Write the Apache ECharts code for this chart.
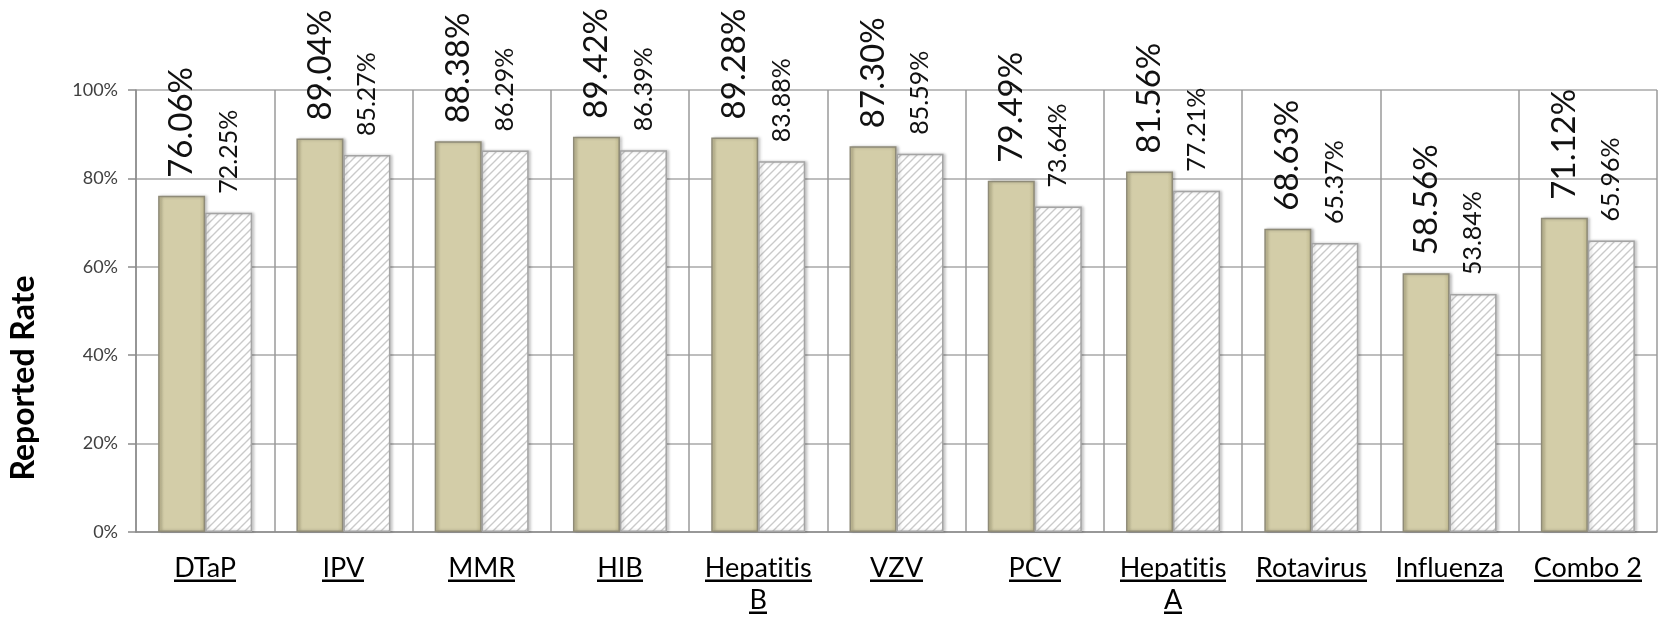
<!DOCTYPE html>
<html>
<head>
<meta charset="utf-8">
<script src="https://cdn.jsdelivr.net/npm/echarts@6/dist/echarts.min.js"></script>
<style>
  html, body { margin: 0; padding: 0; background: #fff; }
  #chart { width: 1659px; height: 632px; }
</style>
</head>
<body>
<div id="chart"></div>
<script>
const categories = ['DTaP', 'IPV', 'MMR', 'HIB', 'Hepatitis\nB', 'VZV', 'PCV', 'Hepatitis\nA', 'Rotavirus', 'Influenza', 'Combo 2']
const rateCurrent = [76.06, 89.04, 88.38, 89.42, 89.28, 87.30, 79.49, 81.56, 68.63, 58.56, 71.12]
const ratePrior = [72.25, 85.27, 86.29, 86.39, 83.88, 85.59, 73.64, 77.21, 65.37, 53.84, 65.96]
const yTicks = [0, 20, 40, 60, 80, 100]

// diagonal hatch for the second series
const hatch = document.createElement('canvas')
hatch.width = 8
hatch.height = 8
const hctx = hatch.getContext('2d')
hctx.fillStyle = '#ffffff'
hctx.fillRect(0, 0, 8, 8)
hctx.strokeStyle = '#cacaca'
hctx.lineWidth = 1.4
hctx.beginPath()
hctx.moveTo(-1, 9); hctx.lineTo(9, -1)
hctx.moveTo(-1, 1); hctx.lineTo(1, -1)
hctx.moveTo(7, 9); hctx.lineTo(9, 7)
hctx.stroke()

// underline drawn as a stretched background image under each label token
const uline = document.createElement('canvas')
uline.width = 4
uline.height = 40
const uctx = uline.getContext('2d')
uctx.fillStyle = '#000'
uctx.fillRect(0, 37, 4, 3)

// stop Lato from joining "ti" / "fl" into ligatures
const noLig = s => s.replace(/([tf])(?=[il])/g, '$1\u200C')

const chart = echarts.init(document.getElementById('chart'))

const option = {
  animation: false,
  grid: { left: 135, right: 2, top: 90, bottom: 100 },
  xAxis: {
    type: 'category',
    data: categories,
    axisLine: { lineStyle: { color: '#8c8c8c', width: 1.5 } },
    axisTick: { length: 10, lineStyle: { color: '#8c8c8c', width: 1.5 } },
    splitLine: { show: true, lineStyle: { color: '#9a9a9a', width: 1.5 } },
    axisLabel: {
      margin: 20,
      interval: 0,
      formatter: v => v.split('\n').map(s => '{u|' + noLig(s) + '}').join('\n'),
      rich: {
        u: {
          fontFamily: 'Lato',
          fontSize: 27,
          color: '#000',
          lineHeight: 32,
          backgroundColor: { image: uline }
        }
      }
    }
  },
  yAxis: {
    type: 'value',
    min: 0,
    max: 100,
    interval: 20,
    name: 'Reported Rate',
    nameLocation: 'middle',
    nameGap: 96,
    nameTextStyle: {
      fontFamily: 'Lato',
      fontWeight: 'bold',
      fontSize: 32,
      color: '#000',
      padding: [0, 134, 0, 0]
    },
    axisLine: { show: true, lineStyle: { color: '#8c8c8c', width: 1.5 } },
    axisTick: { show: true, length: 8, lineStyle: { color: '#8c8c8c', width: 1.5 } },
    splitLine: { lineStyle: { color: '#a8a8a8', width: 1.5 } },
    axisLabel: {
      margin: 18,
      fontFamily: 'Lato',
      fontSize: 18,
      color: '#404040',
      formatter: v => yTicks.includes(v) ? v + '%' : ''
    }
  },
  series: [
    {
      name: 'Current',
      type: 'bar',
      data: rateCurrent,
      barWidth: 47,
      barGap: '0%',
      itemStyle: {
        color: {
          type: 'linear', x: 0, y: 0, x2: 1, y2: 0,
          colorStops: [
            { offset: 0, color: '#c3bc93' },
            { offset: 0.12, color: '#d3cda8' },
            { offset: 0.88, color: '#d3cda8' },
            { offset: 1, color: '#bdb68c' }
          ]
        },
        borderColor: '#8f8b78',
        borderWidth: 1.5,
        shadowColor: 'rgba(0,0,0,0.25)',
        shadowBlur: 3,
        shadowOffsetX: 2
      },
      label: {
        show: true,
        position: 'top',
        rotate: 90,
        align: 'left',
        verticalAlign: 'middle',
        distance: 18,
        fontFamily: 'Lato',
        fontSize: 33,
        color: '#111',
        formatter: p => p.value.toFixed(2) + '%'
      }
    },
    {
      name: 'Prior',
      type: 'bar',
      data: ratePrior,
      barWidth: 47,
      itemStyle: {
        color: { image: hatch, repeat: 'repeat' },
        borderColor: '#a4a4a4',
        borderWidth: 1.5,
        shadowColor: 'rgba(0,0,0,0.2)',
        shadowBlur: 3,
        shadowOffsetX: 2
      },
      label: {
        show: true,
        position: 'top',
        rotate: 90,
        align: 'left',
        verticalAlign: 'middle',
        distance: 19,
        fontFamily: 'Lato',
        fontSize: 25,
        color: '#111',
        formatter: p => p.value.toFixed(2) + '%'
      }
    }
  ]
}

chart.setOption(option)
window.addEventListener('resize', () => chart.resize())
</script>
</body>
</html>
